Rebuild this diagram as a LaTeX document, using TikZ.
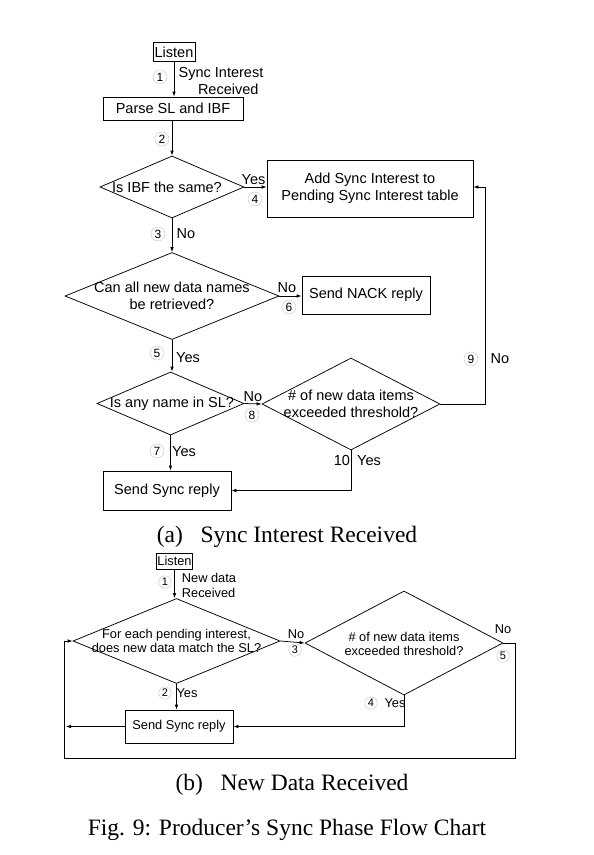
\documentclass[tikz,border=0pt]{standalone}
\usepackage{fontspec}
\setmainfont{Liberation Serif}
\newfontfamily\arialf{Liberation Sans}
\usetikzlibrary{shapes.geometric,arrows.meta}
\begin{document}
\begin{tikzpicture}[x=1pt,y=-1pt,
  fa/.style={font=\arialf\fontsize{14.5}{17}\selectfont},
  fb/.style={font=\arialf\fontsize{12.8}{14.8}\selectfont},
  box/.style={draw, line width=0.75pt, inner sep=0pt},
  dia/.style={draw, diamond, inner sep=0pt, line width=0.75pt},
  lab/.style={inner sep=0pt},
  numa/.style={circle, draw=gray!40, line width=0.5pt, inner sep=0.5pt, minimum size=14pt, font=\arialf\fontsize{12}{12}\selectfont},
  numb/.style={circle, draw=gray!40, line width=0.5pt, inner sep=0.5pt, minimum size=12.5pt, font=\arialf\fontsize{11}{11}\selectfont},
  arr/.style={-{Latex[length=5pt,width=3.6pt]}, line width=0.75pt},
  captxt/.style={inner sep=0pt, font=\fontsize{23.5}{25}\selectfont}
]
\useasboundingbox (0,0) rectangle (594,855);
\fill[white] (0,0) rectangle (594,855);

% ---------------- (a) ----------------
\node[box, fa, minimum width=42pt, minimum height=19pt] (listenA) at (174,52) {Listen};
\node[box, fa, minimum width=140pt, minimum height=23pt] (parse) at (173,108.5) {Parse SL and IBF};
\node[dia, minimum width=144pt, minimum height=62pt] (d1) at (172,187) {};
\node[lab, fa] (d1t) at (167,187) {Is IBF the same?};
\node[box, fa, align=center, minimum width=206pt, minimum height=57pt] (add) at (370,188.5) {Add Sync Interest to\\Pending Sync Interest table};
\node[dia, minimum width=214pt, minimum height=87pt] (d2) at (172,296) {};
\node[lab, fa, align=center] (d2t) at (172,296) {Can all new data names\\be retrieved?};
\node[box, fa, minimum width=128pt, minimum height=38pt] (nack) at (366,295) {Send NACK reply};
\node[dia, minimum width=147pt, minimum height=63pt] (d3) at (170.5,403.5) {};
\node[lab, fa] (d3t) at (172,404) {Is any name in SL?};
\node[dia, minimum width=178pt, minimum height=92pt] (d4) at (351,404) {};
\node[lab, fa, align=center] (d4t) at (351,404) {\# of new data items\\exceeded threshold?};
\node[box, fa, minimum width=128pt, minimum height=39pt] (sendA) at (167,490.5) {Send Sync reply};
\coordinate (c9a) at (485,404);
\coordinate (c9b) at (485,187);

\draw[arr] (listenA.south) -- (listenA.south |- parse.north);
\draw[arr] (d1.north |- parse.south) -- (d1.north);
\draw[arr] (d1.east) -- (d1.east -| add.west);
\draw[arr] (d1.south) -- (d2.north);
\draw[arr] (d2.east) -- (d2.east -| nack.west);
\draw[arr] (d2.south) -- (d3.north -| d2.south);
\draw[arr] (d3.east) -- (d4.west);
\draw[arr] (d3.south) -- (d3.south |- sendA.north);
\draw[arr] (d4.south) -- (d4.south |- sendA.east) -- (sendA.east);
\draw[arr] (d4.east) -- (c9a) -- (c9b) -- (c9b -| add.east);

\node[numa] (n1a) at (160,77) {1};
\node[lab, fa, align=center] (l1a) at (221,81) {Sync Interest\\\hspace*{1em}Received};
\node[numa] (n2a) at (162,139) {2};
\node[lab, fa] (lYes4) at (253.5,180) {Yes};
\node[numa] (n4a) at (255,199) {4};
\node[numa] (n3a) at (158,234) {3};
\node[lab, fa] (lNo3) at (186,234) {No};
\node[lab, fa] (lNo6) at (287,288) {No};
\node[numa] (n6a) at (289,307) {6};
\node[numa] (n5a) at (157,353) {5};
\node[lab, fa] (lYes5) at (188,358) {Yes};
\node[lab, fa] (lNo8) at (253,397) {No};
\node[numa] (n8a) at (252,415) {8};
\node[numa] (n7a) at (157,451) {7};
\node[lab, fa] (lYes7) at (184,452) {Yes};
\node[lab, fa] (n10a) at (342,461) {10};
\node[lab, fa] (lYes10) at (369,461) {Yes};
\node[numa] (n9a) at (471,359) {9};
\node[lab, fa] (lNo9) at (500,359) {No};

\node[captxt] (capa) at (287,537) {(a)\hspace{0.75em}Sync Interest Received};

% ---------------- (b) ----------------
\node[box, fb, minimum width=36pt, minimum height=16pt] (listenB) at (174.5,561) {Listen};
\node[dia, minimum width=207pt, minimum height=85pt] (d5) at (176.5,641) {};
\node[lab, fb, align=center] (d5t) at (176.5,641) {For each pending interest,\\does new data match the SL?};
\node[dia, minimum width=198pt, minimum height=104pt] (d6) at (404,643) {};
\node[lab, fb, align=center] (d6t) at (404,644) {\# of new data items\\exceeded threshold?};
\node[box, fb, minimum width=108pt, minimum height=33pt] (sendB) at (179,726.5) {Send Sync reply};
\coordinate (cL) at (66,726.5);
\coordinate (r1) at (515,643);
\coordinate (r2) at (515,758);
\coordinate (r3) at (64,758);
\coordinate (r4) at (64,641);

\draw[arr] (listenB.south) -- (listenB.south |- d5.north);
\draw[arr] (d5.east) -- (d6.west);
\draw[arr] (d5.south) -- (d5.south |- sendB.north);
\draw[arr] (d6.south) -- (d6.south |- sendB.east) -- (sendB.east);
\draw[arr] (sendB.west) -- (cL);
\draw[arr] (d6.east) -- (r1) -- (r2) -- (r3) -- (r4) -- (d5.west);

\node[numb] (n1b) at (165,582) {1};
\node[lab, fb, align=left] (l1b) at (209,585.5) {New data\\Received};
\node[lab, fb] (lNo3b) at (296,634) {No};
\node[numb] (n3b) at (295,650) {3};
\node[numb] (n2b) at (165,693) {2};
\node[lab, fb] (lYes2b) at (187,693) {Yes};
\node[numb] (n4b) at (371,703) {4};
\node[lab, fb] (lYes4b) at (395,703) {Yes};
\node[lab, fb] (lNo5b) at (503,629) {No};
\node[numb] (n5b) at (503,656) {5};

\node[captxt] (capb) at (292,785) {(b)\hspace{0.75em}New Data Received};
\node[captxt] (capf) at (287,830) {Fig. 9: Producer's Sync Phase Flow Chart};
\end{tikzpicture}
\end{document}
